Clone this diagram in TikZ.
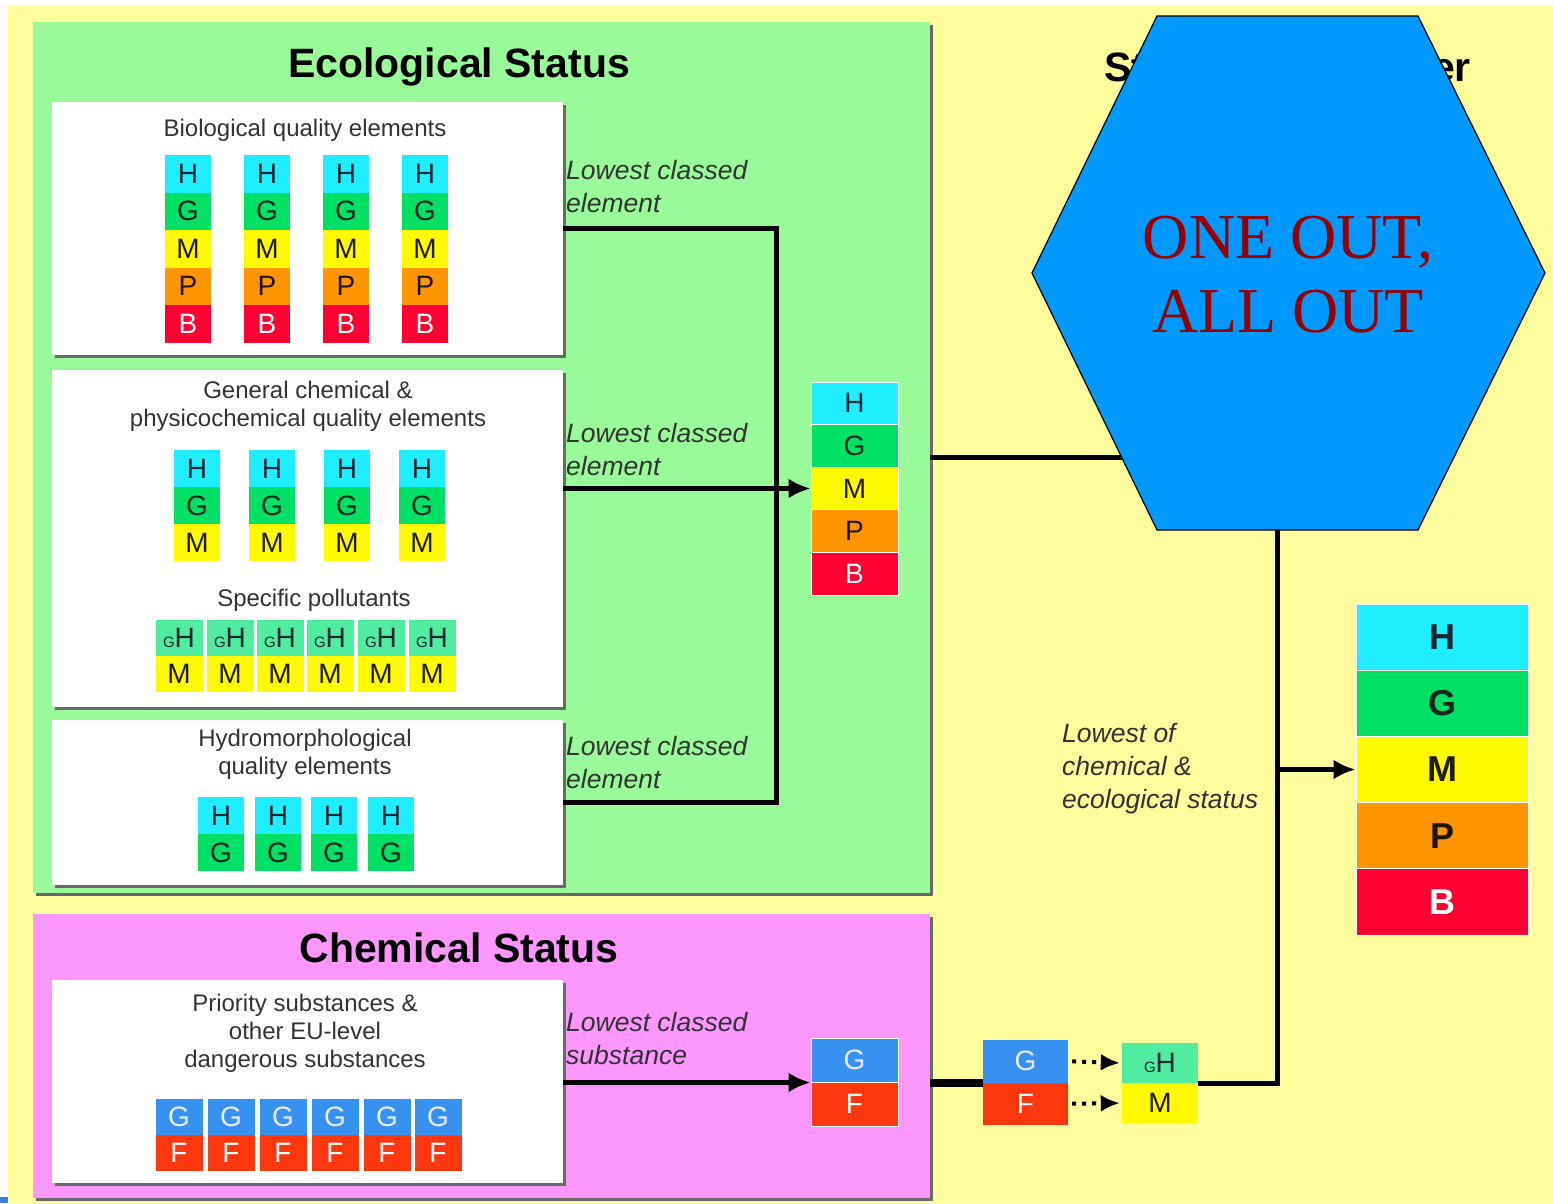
\documentclass[tikz,border=0pt]{standalone}
\usepackage{fontspec}
\setmainfont{Liberation Sans}
\newfontfamily\hexserif{Liberation Serif}
\usepackage{tikz}
\usetikzlibrary{arrows.meta,shadows}
\tikzstyle{every picture}=[> = {Latex[length=22pt,width=20pt]}]

\definecolor{bgyellow}{RGB}{255,252,158}
\definecolor{ecogreen}{RGB}{153,250,153}
\definecolor{chempink}{RGB}{253,150,253}
\definecolor{gradeH}{RGB}{30,238,255}
\definecolor{gradeG}{RGB}{0,224,100}
\definecolor{gradeM}{RGB}{255,250,0}
\definecolor{gradeP}{RGB}{255,150,0}
\definecolor{gradeB}{RGB}{255,0,50}
\definecolor{gradeGH}{RGB}{80,236,160}
\definecolor{inkH}{RGB}{20,40,50}
\definecolor{inkG}{RGB}{20,40,30}
\definecolor{inkM}{RGB}{30,30,10}
\definecolor{inkP}{RGB}{30,20,10}
\definecolor{inkB}{RGB}{255,255,255}
\definecolor{chemG}{RGB}{55,145,240}
\definecolor{chemF}{RGB}{255,55,15}
\definecolor{hexblue}{RGB}{0,153,255}
\definecolor{hexred}{RGB}{153,0,0}
\definecolor{shade}{RGB}{105,105,105}
\definecolor{labelgray}{RGB}{50,50,50}
\definecolor{cornerblue}{RGB}{60,130,210}

\newcommand{\smallG}{{\fontsize{15}{15}\selectfont G}}

\begin{document}
\begin{tikzpicture}[x=1pt,y=-1pt,
    panel/.style={inner sep=0pt,drop shadow={shadow xshift=3pt,shadow yshift=-3pt,fill=shade,opacity=1}},
    cell/.style={inner sep=0pt,font=\fontsize{28}{28}\selectfont},
    bigcell/.style={inner sep=0pt,draw=white,line width=1pt,font=\fontsize{36}{36}\selectfont\bfseries},
    heading/.style={inner sep=0pt,font=\fontsize{41}{41}\selectfont\bfseries},
    subhead/.style={inner sep=0pt,align=center,text=black!80,font=\fontsize{24}{28}\selectfont},
    note/.style={anchor=west,inner sep=0pt,align=left,text=labelgray,font=\fontsize{26.5}{33}\selectfont\itshape},
    link/.style={line width=5pt},
    dots/.style={line width=4pt,dash pattern=on 4pt off 6pt,shorten <=4pt,shorten >=2pt,-{Latex[length=19pt,width=17pt]}}]
  \useasboundingbox (0,0) rectangle (1553,1203);
  \fill[bgyellow] (8,6) rectangle (1553,1203);
  \fill[cornerblue] (0,1197) rectangle (8,1203);

  % panels
  \node[panel,fill=ecogreen,minimum width=897pt,minimum height=871pt] (ecobox) at (481.5,457.5) {};
  \node[panel,fill=chempink,minimum width=897pt,minimum height=284pt] (chembox) at (481.5,1056) {};
  \node[panel,fill=white,minimum width=511pt,minimum height=253pt] (bio) at (307.5,228.5) {};
  \node[panel,fill=white,minimum width=511pt,minimum height=337pt] (gen) at (307.5,538.5) {};
  \node[panel,fill=white,minimum width=511pt,minimum height=165pt] (hydro) at (307.5,802.5) {};
  \node[panel,fill=white,minimum width=511pt,minimum height=203pt] (prio) at (307.5,1081.5) {};

  \node[heading] (ecotitle) at (459,67) {Ecological Status};
  \node[heading] (chemtitle) at (459,948) {Chemical Status};
  \node[subhead] (biotitle) at (305,130) {Biological quality elements};
  \node[subhead] (gentitle) at (308,406) {General chemical \&\\physicochemical quality elements};
  \node[subhead] (sptitle) at (314,600) {Specific pollutants};
  \node[subhead] (hydrotitle) at (305,754.5) {Hydromorphological\\quality elements};
  \node[subhead] (priotitle) at (305,1033) {Priority substances \&\\other EU-level\\dangerous substances};

  % quality element grades
  \foreach \x [count=\i] in {188,267,346,425}
    \foreach \g [count=\j] in {H,G,M,P,B}
      \node[cell,fill=grade\g,text=ink\g,minimum width=46pt,minimum height=37.5pt] (bio-\i-\g) at (\x,{136.25+37.5*\j}) {\g};
  \foreach \x [count=\i] in {197,272,347,422}
    \foreach \g [count=\j] in {H,G,M}
      \node[cell,fill=grade\g,text=ink\g,minimum width=46pt,minimum height=37pt] (gen-\i-\g) at (\x,{431.5+37*\j}) {\g};
  \foreach \x [count=\i] in {179,230,280,330,381,432} {
    \node[cell,fill=gradeGH,text=inkH,minimum width=47pt,minimum height=36pt] (sp-\i-gH) at (\x,637.5) {\smallG H};
    \node[cell,fill=gradeM,text=inkM,minimum width=47pt,minimum height=36pt] (sp-\i-M) at (\x,673.5) {M};
  }
  \foreach \x [count=\i] in {221,278,334,391}
    \foreach \g [count=\j] in {H,G}
      \node[cell,fill=grade\g,text=ink\g,minimum width=46pt,minimum height=37pt] (hydro-\i-\g) at (\x,{778.5+37*\j}) {\g};
  \foreach \x [count=\i] in {179,231,283,335,387,438} {
    \node[cell,fill=chemG,text=blue!8,minimum width=47pt,minimum height=36pt] (prio-\i-G) at (\x,1116.5) {G};
    \node[cell,fill=chemF,text=white,minimum width=47pt,minimum height=36pt] (prio-\i-F) at (\x,1152.5) {F};
  }

  % class results
  \foreach \g [count=\j] in {H,G,M,P,B}
    \node[cell,fill=grade\g,text=ink\g,draw=white,line width=1pt,minimum width=87pt,minimum height=42.6pt] (eco-\g) at (854.5,{360.7+42.6*\j}) {\g};
  \node[cell,fill=chemG,text=blue!8,draw=white,line width=1pt,minimum width=87pt,minimum height=44pt] (chem-G) at (854.5,1060) {G};
  \node[cell,fill=chemF,text=white,draw=white,line width=1pt,minimum width=87pt,minimum height=44pt] (chem-F) at (854.5,1104) {F};
  \node[cell,fill=chemG,text=blue!8,minimum width=85pt,minimum height=42.5pt] (conv-G) at (1025.5,1061.25) {G};
  \node[cell,fill=chemF,text=white,minimum width=85pt,minimum height=42.5pt] (conv-F) at (1025.5,1103.75) {F};
  \node[cell,fill=gradeGH,text=inkH,minimum width=76pt,minimum height=40pt] (conv-gH) at (1160,1063) {\smallG H};
  \node[cell,fill=gradeM,text=inkM,minimum width=76pt,minimum height=40pt] (conv-M) at (1160,1103) {M};
  \foreach \g [count=\j] in {H,G,M,P,B}
    \node[bigcell,fill=grade\g,text=ink\g,minimum width=172pt,minimum height=66.2pt] (fin-\g) at (1442,{570.9+66.2*\j}) {\g};

  \node[note] (biolow) at (566,186.5) {Lowest classed\\element};
  \node[note] (genlow) at (566,449.5) {Lowest classed\\element};
  \node[note] (hydrolow) at (566,762.5) {Lowest classed\\element};
  \node[note] (priolow) at (566,1038.5) {Lowest classed\\substance};
  \node[note] (overall) at (1062,769) {Lowest of\\chemical \&\\ecological status};

  % connectors
  \coordinate (knee) at (1277,457.5);
  \draw[link] (bio.east) -| ([xshift=213pt]hydro.east) -- (hydro.east);
  \draw[link,->] (eco-M.west -| gen.east) -- (eco-M.west);
  \draw[link,->] (chem-G.south west -| prio.east) -- (chem-G.south west);
  \draw[link,line width=8pt] (conv-G.south west -| chembox.east) -- (conv-G.south west);
  \draw[dots] (conv-G.east) -- (conv-gH.west);
  \draw[dots] (conv-F.east) -- (conv-M.west);
  \draw[link] (ecobox.east) -- (knee) |- (conv-gH.south east);
  \draw[link,->] (knee |- fin-M.west) -- (fin-M.west);

  % hexagon on top
  \node[heading] (statustitle) at (1287.5,67) {Status of the water};
  \filldraw[fill=hexblue,draw=black,line width=1.2pt] (1157,16) -- (1418,16) -- (1545,273) -- (1418,530) -- (1157,530) -- (1032,273) -- cycle;
  \node[inner sep=0pt,align=center,text=hexred,font=\hexserif\fontsize{64}{74}\selectfont] (slogan) at (1288,275) {ONE OUT,\\ALL OUT};
\end{tikzpicture}
\end{document}
